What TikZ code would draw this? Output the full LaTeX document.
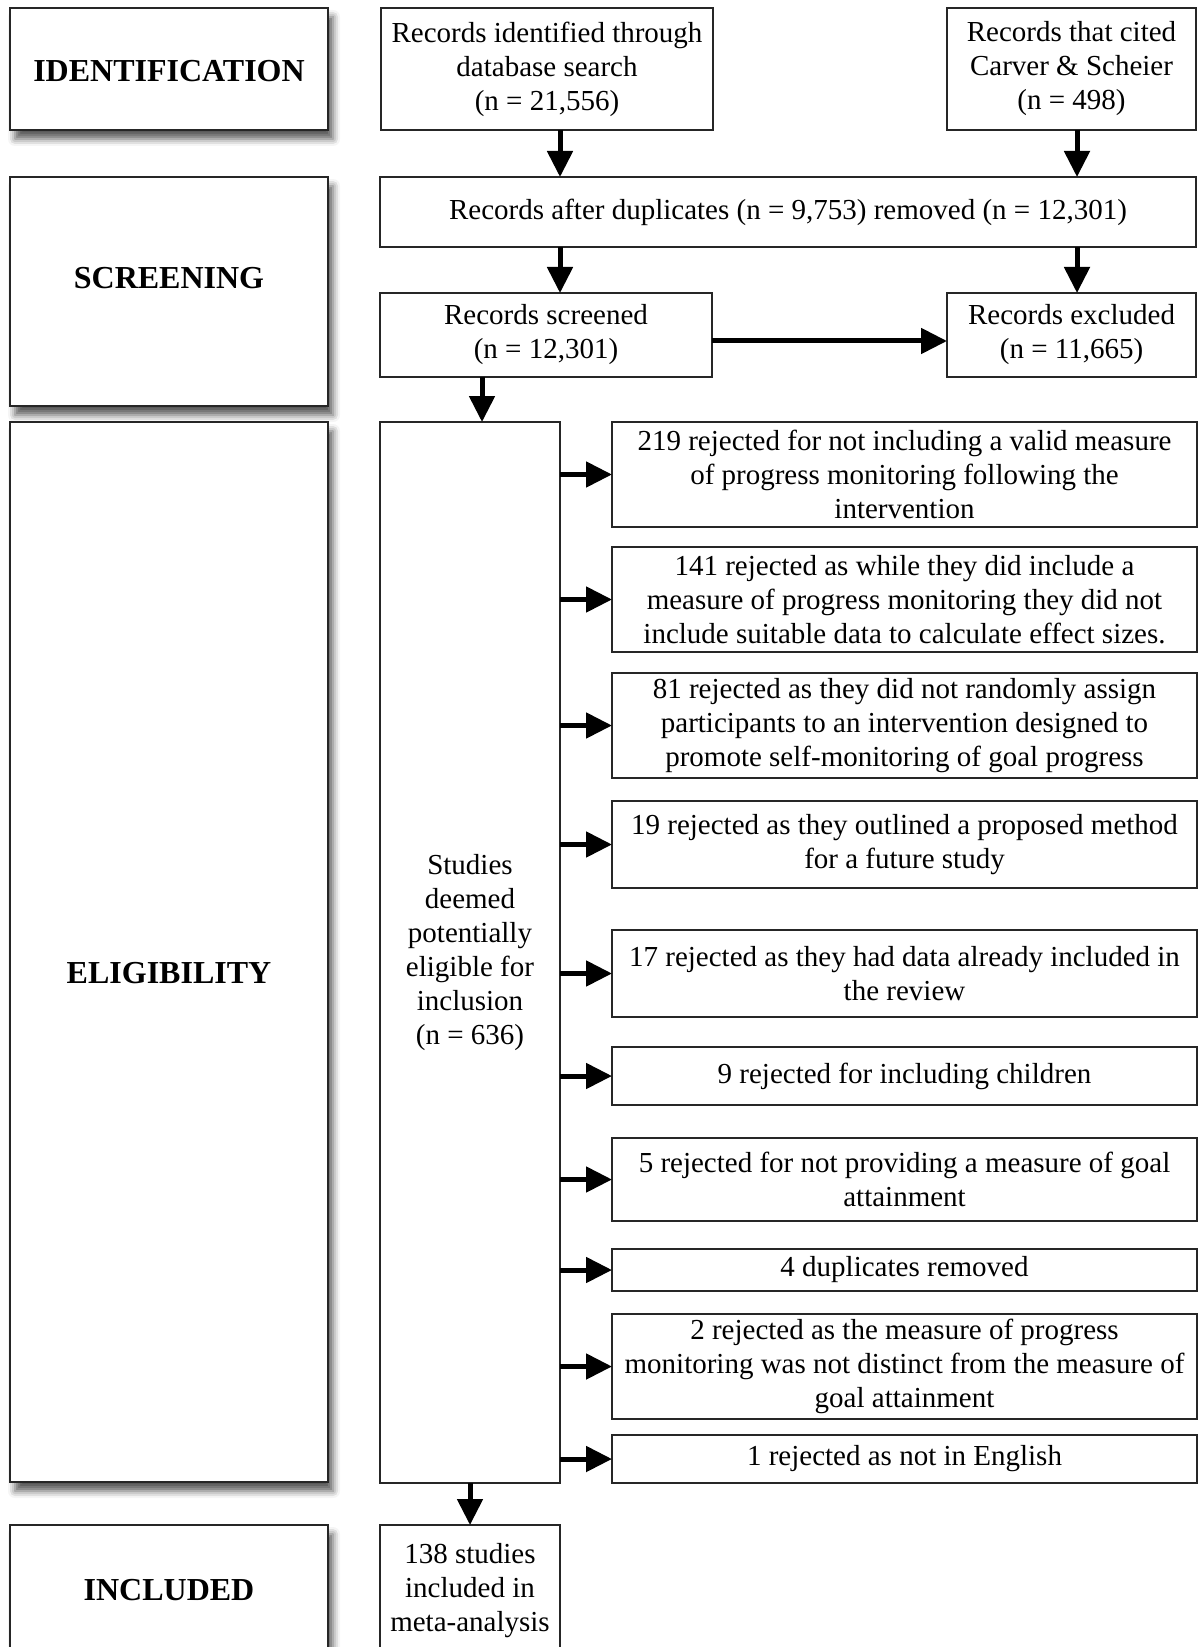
\documentclass[tikz,border=0pt]{standalone}
\usepackage{fontspec}
\setmainfont{Liberation Serif}
\usetikzlibrary{arrows.meta,shadows.blur}

\tikzset{
  box/.style={draw=black!85, line width=0.6pt, fill=white, inner sep=0pt, outer sep=0pt,
    align=center, font=\fontsize{14.5pt}{17pt}\selectfont},
  rej/.style={box, minimum width=292.5pt},
  phase/.style={draw=black!85, line width=0.6pt, fill=white, inner sep=0pt, outer sep=0pt,
    minimum width=159pt,
    blur shadow={shadow xshift=2.5pt, shadow yshift=-4.5pt, shadow blur radius=3.5pt, shadow opacity=65}},
  phasetxt/.style={font=\fontsize{16pt}{19pt}\selectfont\bfseries},
  arr/.style={line width=2.5pt, -{Triangle[length=13pt,width=12.5pt]}},
}

\begin{document}
\begin{tikzpicture}[x=0.5pt, y=-0.5pt]
            \useasboundingbox (0,0) rectangle (1199,1647);

            % Phase boxes on the left
            \node[phase, minimum height=61pt] (idbox) at (169,69) {};
            \node[phase, minimum height=114.5pt] (scrbox) at (169,291.5) {};
            \node[phase, minimum height=530pt] (eligbox) at (169,952) {};
            \node[phase, minimum height=75pt] (inclbox) at (169,1600) {};
            \node[phasetxt] (idtxt) at (169,71) {IDENTIFICATION};
            \node[phasetxt] (scrtxt) at (169,278) {SCREENING};
            \node[phasetxt] (eligtxt) at (169,973) {ELIGIBILITY};
            \node[phasetxt] (incltxt) at (169,1590) {INCLUDED};

            % Identification and screening
            \node[box, minimum width=166pt, minimum height=61pt] (ident) at (547,69)
                {Records identified through\\ database search\\ (n = 21,556)};
            \node[box, minimum width=124.5pt, minimum height=61pt] (cited) at (1071.5,69)
                {Records that cited\\ Carver \& Scheier\\ (n = 498)};
            \node[box, minimum width=408pt, minimum height=35pt] (afterdup) at (788,212)
                {Records after duplicates (n = 9,753) removed (n = 12,301)};
            \node[box, minimum width=166pt, minimum height=42pt] (screened) at (546,335)
                {Records screened\\ (n = 12,301)};
            \node[box, minimum width=124.5pt, minimum height=42pt] (excluded) at (1071.5,335)
                {Records excluded\\ (n = 11,665)};

            % Eligibility
            \node[box, minimum width=90pt, minimum height=530.5pt] (studies) at (470,952.5)
                {Studies\\ deemed\\ potentially\\ eligible for\\ inclusion\\ (n = 636)};
            \node[rej, minimum height=52.5pt] (r1) at (904.5,474.5)
                {219 rejected for not including a valid measure\\ of progress monitoring following the\\ intervention};
            \node[rej, minimum height=52.5pt] (r2) at (904.5,599.5)
                {141 rejected as while they did include a\\ measure of progress monitoring they did not\\ include suitable data to calculate effect sizes.};
            \node[rej, minimum height=52.5pt] (r3) at (904.5,725.5)
                {81 rejected as they did not randomly assign\\ participants to an intervention designed to\\ promote self-monitoring of goal progress};
            \node[rej, minimum height=43.5pt] (r4) at (904.5,844.5)
                {19 rejected as they outlined a proposed method\\ for a future study};
            \node[rej, minimum height=43.5pt] (r5) at (904.5,973.5)
                {17 rejected as they had data already included in\\ the review};
            \node[rej, minimum height=29pt] (r6) at (904.5,1076)
                {9 rejected for including children};
            \node[rej, minimum height=41.5pt] (r7) at (904.5,1179.5)
                {5 rejected for not providing a measure of goal\\ attainment};
            \node[rej, minimum height=21pt] (r8) at (904.5,1270)
                {4 duplicates removed};
            \node[rej, minimum height=52.5pt] (r9) at (904.5,1366.5)
                {2 rejected as the measure of progress\\ monitoring was not distinct from the measure of\\ goal attainment};
            \node[rej, minimum height=24pt] (r10) at (904.5,1459)
                {1 rejected as not in English};

            % Included
            \node[box, minimum width=90pt, minimum height=66pt] (incl) at (470,1591)
                {138 studies\\ included in\\ meta-analysis};

            % Arrow positions
            \coordinate (xa) at (560,0);
            \coordinate (xb) at (1077,0);
            \coordinate (xc) at (482,0);
            \coordinate (ya) at (0,341);

            % Draw arrows
            \draw[arr] (ident.south -| xa) -- (afterdup.north -| xa);
            \draw[arr] (cited.south -| xb) -- (afterdup.north -| xb);
            \draw[arr] (afterdup.south -| xa) -- (screened.north -| xa);
            \draw[arr] (afterdup.south -| xb) -- (excluded.north -| xb);
            \draw[arr] (screened.east |- ya) -- (excluded.west |- ya);
            \draw[arr] (screened.south -| xc) -- (studies.north -| xc);
            \draw[arr] (studies.south) -- (incl.north);
            \draw[arr] (studies.east |- r1.west) -- (r1.west);
            \draw[arr] (studies.east |- r2.west) -- (r2.west);
            \draw[arr] (studies.east |- r3.west) -- (r3.west);
            \draw[arr] (studies.east |- r4.west) -- (r4.west);
            \draw[arr] (studies.east |- r5.west) -- (r5.west);
            \draw[arr] (studies.east |- r6.west) -- (r6.west);
            \draw[arr] (studies.east |- r7.west) -- (r7.west);
            \draw[arr] (studies.east |- r8.west) -- (r8.west);
            \draw[arr] (studies.east |- r9.west) -- (r9.west);
            \draw[arr] (studies.east |- r10.west) -- (r10.west);
\end{tikzpicture}
\end{document}
